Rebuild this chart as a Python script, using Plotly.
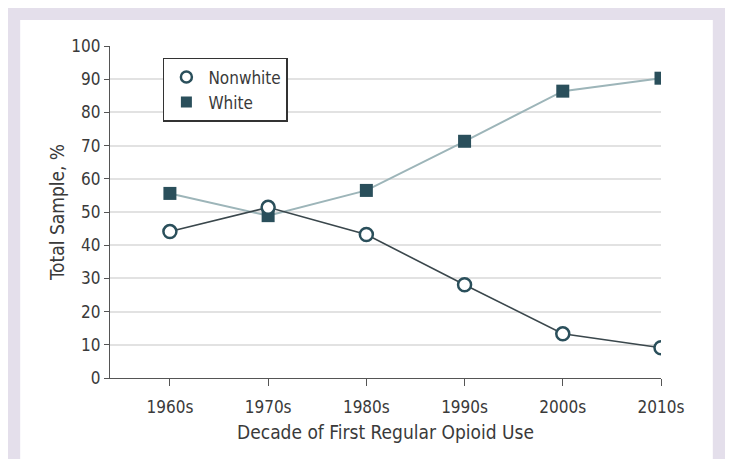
import plotly.graph_objects as go

decades = ["1960s", "1970s", "1980s", "1990s", "2000s", "2010s"]
nonwhite = [44.1, 51.4, 43.2, 28.1, 13.3, 9.1]
white = [55.6, 48.9, 56.5, 71.3, 86.4, 90.3]
y_ticks = [0, 10, 20, 30, 40, 50, 60, 70, 80, 90, 100]

FONT = "DejaVu Sans Condensed, Liberation Sans Narrow, sans-serif"
xs = list(range(len(decades)))
DARK = "#2a4f5b"

fig = go.Figure()
fig.add_trace(go.Scatter(
    x=xs, y=white, name="White", mode="lines+markers", showlegend=False,
    line=dict(color="#9db5b9", width=2),
    marker=dict(symbol="square", size=13, color=DARK, line=dict(width=0)),
))
fig.add_trace(go.Scatter(
    x=xs, y=nonwhite, name="Nonwhite", mode="lines+markers", showlegend=False,
    line=dict(color="#3a474c", width=1.6),
    marker=dict(symbol="circle", size=13, color="white", line=dict(color=DARK, width=2.5)),
))
# legend entries (markers only)
fig.add_trace(go.Scatter(
    x=[None], y=[None], name="Nonwhite", mode="markers",
    marker=dict(symbol="circle", size=11, color="white", line=dict(color=DARK, width=2.5)),
))
fig.add_trace(go.Scatter(
    x=[None], y=[None], name="White", mode="markers",
    marker=dict(symbol="square", size=11, color=DARK, line=dict(width=0)),
))

fig.add_shape(type="rect", xref="paper", yref="paper", x0=-0.163, x1=1.094, y0=-0.35, y1=1.078,
              fillcolor="white", line=dict(width=0), layer="below")

fig.update_layout(
    width=733, height=459,
    margin=dict(l=102, r=80, t=38, b=89),
    paper_bgcolor="#e4dfeb", plot_bgcolor="white",
    font=dict(family=FONT, size=17, color="#3a3a3a"),
    showlegend=True,
    legend=dict(x=0.096, y=0.964, xanchor="left", yanchor="top",
                bgcolor="white", bordercolor="#333333", borderwidth=1.5,
                font=dict(size=17, color="#3a3a3a"), itemwidth=34,
                tracegroupgap=0),
    xaxis=dict(
        tickmode="array", tickvals=xs, ticktext=decades,
        range=[-0.61, 5.0], showgrid=False, zeroline=False,
        showline=True, linecolor="#555555", linewidth=1.2,
        ticks="outside", ticklen=7, tickcolor="#555555", ticklabelstandoff=6,
        tickfont=dict(size=17),
        title=dict(text="Decade of First Regular Opioid Use", font=dict(size=19), standoff=10),
    ),
    yaxis=dict(
        tickmode="array", tickvals=y_ticks, range=[0, 100],
        showgrid=True, gridcolor="#e2e2e2", gridwidth=1.5, zeroline=False,
        showline=True, linecolor="#555555", linewidth=1.2,
        ticks="outside", ticklen=5, tickcolor="#555555",
        tickfont=dict(size=17),
        title=dict(text="Total Sample, %", font=dict(size=19), standoff=1),
    ),
)

fig.write_html("out.html")
